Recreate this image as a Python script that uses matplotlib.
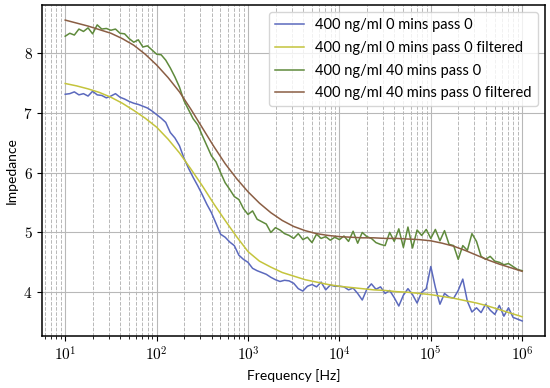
import numpy as np
import matplotlib
matplotlib.use("Agg")
import matplotlib.pyplot as plt
from matplotlib.ticker import FuncFormatter

plt.rcParams['mathtext.fontset'] = 'cm'
plt.rcParams['font.family'] = ['Lato', 'DejaVu Sans']

# raw sweeps, 20 points per decade from 10 Hz to 1 MHz
freq_raw = np.logspace(1, 6, 101)
imp_0min = [
    7.31, 7.32, 7.35, 7.30, 7.32, 7.28, 7.36, 7.30, 7.29, 7.25,
    7.28, 7.32, 7.26, 7.23, 7.19, 7.16, 7.14, 7.11, 7.08, 7.03,
    6.97, 6.91, 6.84, 6.67, 6.58, 6.45, 6.24, 6.07, 5.92, 5.78,
    5.63, 5.47, 5.33, 5.15, 4.97, 4.92, 4.84, 4.78, 4.62, 4.55,
    4.50, 4.40, 4.36, 4.33, 4.30, 4.25, 4.21, 4.18, 4.20, 4.19,
    4.15, 4.06, 4.02, 4.10, 4.13, 4.09, 4.17, 4.04, 4.12, 4.10,
    4.10, 4.09, 4.04, 4.07, 3.98, 3.87, 4.05, 4.14, 4.05, 4.09,
    3.98, 4.03, 3.91, 3.77, 3.95, 4.06, 3.96, 3.82, 4.00, 4.06,
    4.43, 4.08, 3.80, 3.98, 3.92, 3.90, 4.03, 4.22, 3.85, 3.67,
    3.74, 3.66, 3.80, 3.70, 3.63, 3.78, 3.60, 3.74, 3.58, 3.55,
    3.52]
imp_40min = [
    8.28, 8.33, 8.30, 8.40, 8.36, 8.42, 8.32, 8.47, 8.40, 8.41,
    8.38, 8.40, 8.33, 8.32, 8.24, 8.18, 8.22, 8.10, 8.12, 8.05,
    7.98, 7.97, 7.88, 7.75, 7.60, 7.43, 7.20, 7.05, 6.90, 6.80,
    6.62, 6.45, 6.28, 6.18, 6.00, 5.83, 5.72, 5.60, 5.55, 5.40,
    5.30, 5.36, 5.22, 5.18, 5.14, 5.00, 5.08, 5.04, 4.98, 4.95,
    4.90, 4.98, 4.88, 4.92, 4.83, 4.97, 4.90, 4.93, 4.87, 4.92,
    4.88, 4.94, 4.85, 5.02, 4.82, 5.00, 4.93, 4.90, 4.83, 4.80,
    4.78, 5.00, 4.85, 5.06, 4.75, 5.09, 4.74, 5.04, 4.95, 5.05,
    4.90, 5.05, 4.86, 5.03, 4.80, 4.78, 4.55, 4.78, 4.70, 4.98,
    4.85, 4.60, 4.55, 4.60, 4.52, 4.50, 4.46, 4.48, 4.43, 4.38,
    4.36]

# filtered curves, 8 points per decade
freq_filt = np.logspace(1, 6, 41)
filt_0min = [
    7.49, 7.45, 7.40, 7.34, 7.26, 7.16, 7.04, 6.91, 6.76, 6.56,
    6.33, 6.06, 5.78, 5.48, 5.20, 4.93, 4.68, 4.52, 4.42, 4.33,
    4.27, 4.21, 4.17, 4.13, 4.10, 4.08, 4.06, 4.04, 4.03, 4.01,
    4.00, 3.98, 3.96, 3.93, 3.90, 3.86, 3.82, 3.77, 3.71, 3.65,
    3.59]
filt_40min = [
    8.55, 8.50, 8.45, 8.39, 8.33, 8.24, 8.13, 7.98, 7.80, 7.59,
    7.35, 7.06, 6.75, 6.44, 6.15, 5.90, 5.68, 5.49, 5.33, 5.20,
    5.10, 5.03, 4.98, 4.95, 4.93, 4.92, 4.91, 4.91, 4.90, 4.90,
    4.89, 4.88, 4.86, 4.82, 4.77, 4.70, 4.62, 4.54, 4.47, 4.41,
    4.35]

fig = plt.figure(figsize=(5.5, 3.88), dpi=100)
ax = fig.add_axes([0.077, 0.134, 0.914, 0.853])

ax.plot(freq_raw, imp_0min, color='#5b69bd', lw=1.1, label='400 ng/ml 0 mins pass 0')
ax.plot(freq_filt, filt_0min, color='#c4c43c', lw=1.1, label='400 ng/ml 0 mins pass 0 filtered')
ax.plot(freq_raw, imp_40min, color='#5f8a3c', lw=1.1, label='400 ng/ml 40 mins pass 0')
ax.plot(freq_filt, filt_40min, color='#8a5e44', lw=1.1, label='400 ng/ml 40 mins pass 0 filtered')

ax.set_xscale('log')
ax.xaxis.set_major_formatter(FuncFormatter(lambda v, p: r'$10^{%d}$' % round(np.log10(v))))
ax.grid(which='major', color='#b8b8b8', lw=0.8, ls='-')
ax.grid(which='minor', axis='x', color='#b8b8b8', lw=0.7, ls='--')
ax.tick_params(labelsize=11)
ax.set_yticks([4, 5, 6, 7, 8])
ax.set_yticklabels([r'$4$', r'$5$', r'$6$', r'$7$', r'$8$'])
for s in ax.spines.values():
    s.set_linewidth(1.1)

ax.set_xlabel('Frequency [Hz]', fontsize=10)
ax.set_ylabel('Impedance', fontsize=10)
ax.legend(loc='upper right', fontsize=10.5, handlelength=2.0, labelspacing=0.6)

fig.savefig('out.png', dpi=100)
